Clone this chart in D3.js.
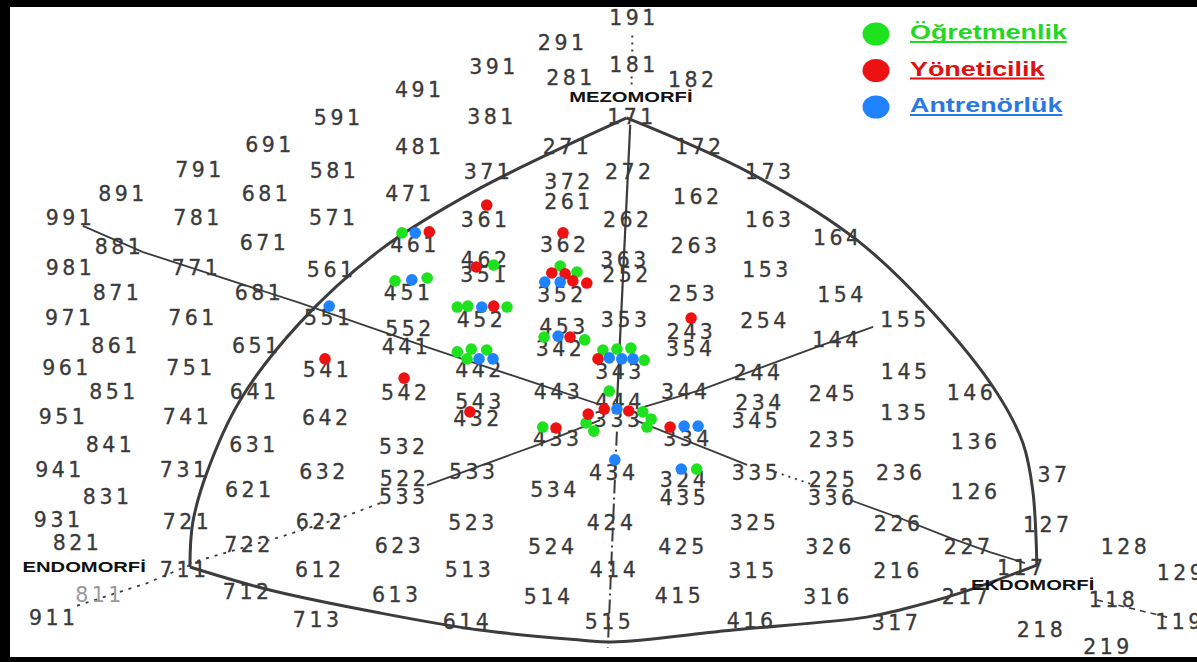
<!DOCTYPE html>
<html>
<head>
<meta charset="utf-8">
<script src="https://cdn.jsdelivr.net/npm/d3@7"></script>
<style>
  body { margin: 0; background: #fff; }
</style>
</head>
<body>
<div id="chart"></div>
<script>
// ---- data (somatochart units: X = ecto - endo, Y = 2*meso - endo - ecto)
const groupNames = ["Öğretmenlik", "Yöneticilik", "Antrenörlük"];
const groupColors = ["#1ee21e", "#ee1111", "#1f82ff"];
const textColors = ["#22d822", "#dd1111", "#2a78e4"];

const ogretmenlik = [[-3.0,7.38],[-1.69,6.04],[-0.74,6.0],[-0.5,5.75],[-3.10,5.38],[-2.64,5.5],
  [-2.21,4.29],[-2.06,4.33],[-1.5,4.29],[-2.21,2.42],[-2.01,2.54],[-1.79,2.5],[-2.07,2.13],
  [-0.97,3.04],[-0.39,2.92],[-0.13,2.5],[0.07,2.54],[0.27,2.58],[0.46,2.08],[-0.04,0.79],
  [0.44,-0.08],[0.56,-0.38],[0.5,-0.71],[-0.37,-0.54],[-0.26,-0.88],[-0.99,-0.71],[1.21,-2.46]];
const yoneticilik = [[-1.79,8.54],[-2.61,7.42],[-0.70,7.38],[-1.94,5.96],[-0.86,5.71],[-0.67,5.67],
  [-0.56,5.38],[-0.36,5.29],[-1.69,4.33],[-4.10,2.13],[-2.97,1.33],[-2.03,-0.08],[-0.6,3.04],
  [-0.2,2.13],[-0.34,-0.17],[-0.11,0.04],[0.24,-0.04],[-0.8,-0.75],[0.83,-0.71],[1.13,3.83]];
const antrenorluk = [[-2.81,7.38],[-0.96,5.33],[-0.74,5.33],[-2.86,5.42],[-1.86,4.29],[-4.04,4.33],
  [-1.9,2.13],[-1.7,2.13],[-0.77,3.08],[-0.04,2.17],[0.14,2.13],[0.3,2.13],[0.07,0.04],
  [1.03,-0.67],[1.23,-0.67],[0.04,-2.08],[0.99,-2.46]];

const somatotypes = [
  ["191",0.29,16.33],["291",-0.73,15.29],["391",-1.71,14.29],["181",0.29,14.38],["281",-0.61,13.83],["182",1.13,13.75],["491",-2.77,13.33],
  ["591",-3.93,12.17],["381",-1.74,12.21],["171",0.26,12.21],
  ["691",-4.91,11.04],["481",-2.77,10.96],["271",-0.66,10.96],["172",1.23,10.96],
  ["791",-5.91,10.0],["581",-3.99,9.96],["371",-1.79,9.92],["372",-0.64,9.5],["272",0.23,9.92],["173",2.23,9.92],
  ["891",-7.01,9.0],["681",-4.96,9.0],["471",-2.91,9.0],["261",-0.64,8.67],["162",1.2,8.88],
  ["991",-7.76,8.0],["781",-5.94,8.0],["571",-4.0,8.0],["361",-1.83,7.92],["262",0.2,7.92],["163",2.23,7.92],
  ["881",-7.06,6.79],["671",-4.99,6.96],["461",-2.84,6.88],["362",-0.7,6.88],["263",1.17,6.83],["164",3.2,7.17],
  ["981",-7.76,5.92],["771",-5.96,5.92],["561",-4.03,5.83],["462",-1.83,6.25],["351",-1.84,5.63],["363",0.16,6.25],["252",0.19,5.63],["153",2.19,5.83],
  ["871",-7.09,4.88],["681",-5.06,4.88],["451",-2.93,4.88],["352",-0.74,4.79],["253",1.14,4.83],["154",3.26,4.79],
  ["971",-7.77,3.83],["761",-6.01,3.83],["551",-4.07,3.83],["452",-1.89,3.75],["552",-2.91,3.38],["353",0.17,3.75],["254",2.16,3.71],["155",4.16,3.75],
  ["861",-7.11,2.67],["651",-5.1,2.67],["441",-2.96,2.63],["453",-0.71,3.46],["342",-0.76,2.54],["243",1.11,3.25],["354",1.10,2.54],["144",3.19,2.92],
  ["961",-7.81,1.75],["751",-6.04,1.75],["541",-4.09,1.67],["442",-1.91,1.67],["343",0.09,1.58],["244",2.07,1.54],["145",4.17,1.58],
  ["851",-7.14,0.75],["641",-5.13,0.75],["542",-2.97,0.71],["443",-0.79,0.75],["344",1.03,0.75],["234",2.09,0.29],["245",3.14,0.67],["146",5.11,0.71],
  ["951",-7.86,-0.29],["741",-6.09,-0.29],["642",-4.1,-0.33],["543",-1.91,0.33],["432",-1.94,-0.38],["444",0.09,0.33],["333",0.07,-0.42],["345",2.04,-0.46],["135",4.16,-0.13],
  ["841",-7.19,-1.46],["631",-5.14,-1.46],["532",-3.0,-1.54],["433",-0.8,-1.21],["334",1.06,-1.21],["235",3.14,-1.25],["136",5.17,-1.33],
  ["941",-7.91,-2.5],["731",-6.13,-2.5],["632",-4.14,-2.58],["533",-2.0,-2.58],["434",0.0,-2.63],["324",1.01,-2.92],["335",2.04,-2.63],["225",3.14,-2.92],["236",4.1,-2.63],["37",6.29,-2.71],
  ["831",-7.23,-3.63],["621",-5.2,-3.33],["522",-2.99,-2.88],["533",-3.0,-3.63],["534",-0.84,-3.33],["435",1.01,-3.67],["336",3.13,-3.67],["126",5.17,-3.42],
  ["931",-7.93,-4.58],["721",-6.09,-4.67],["622",-4.19,-4.67],["523",-2.01,-4.71],["424",-0.03,-4.71],["325",2.01,-4.71],["226",4.07,-4.75],["127",6.2,-4.79],
  ["821",-7.66,-5.54],["722",-5.21,-5.63],["623",-3.06,-5.67],["524",-0.87,-5.71],["425",0.99,-5.71],["326",3.09,-5.71],["227",5.07,-5.71],["128",7.31,-5.71],
  ["711",-6.13,-6.67],["612",-4.2,-6.67],["513",-2.06,-6.67],["414",0.01,-6.67],["315",1.99,-6.71],["216",4.06,-6.71],["117",5.83,-6.58],["129",8.11,-6.79],
  ["811",-7.34,-7.71],["712",-5.23,-7.58],["613",-3.1,-7.71],["514",-0.93,-7.79],["415",0.94,-7.75],["316",3.06,-7.79],["217",5.04,-7.79],["118",7.14,-7.92],
  ["911",-8.0,-8.67],["713",-4.23,-8.75],["614",-2.09,-8.83],["515",-0.06,-8.83],["416",1.97,-8.79],["317",4.04,-8.88],["218",6.11,-9.17],["119",8.09,-8.83],["219",7.06,-9.88]
];

const poleNames = [["MEZOMORFİ",0.27,13.04],["ENDOMORFİ",-7.54,-6.54],["EKDOMORFİ",6.01,-7.29]];

// outline of the chart
const leftArc = [[0.21,12.17],[-1.93,9.17],[-3.31,6.67],[-4.46,3.63],[-5.31,0.42],[-5.79,-2.63],[-5.99,-4.71],[-6.03,-6.54]];
const rightArc = [[0.21,12.17],[1.97,9.88],[3.5,7.08],[4.59,4.04],[5.5,0.71],[5.87,-1.38],[6.01,-3.33],[6.07,-6.46]];
const bottomArc = [[-6.03,-6.54],[-4.89,-7.5],[-3.31,-8.46],[-1.89,-9.17],[-0.46,-9.58],[0.0,-9.67],[1.73,-9.17],[3.64,-8.63],[4.11,-8.33],[4.97,-7.63],[6.07,-6.46]];

// axis lines through the centre
const mesoSolid = [[0.26,11.88],[0.07,0.2]];
const mesoDashed = [[0.07,-0.9],[-0.06,-9.92]];
const mesoDotted1 = [[0.29,15.6],[0.29,14.8]];
const mesoDotted2 = [[0.28,13.9],[0.28,13.4]];
const endoMesoLine = [[-7.56,7.67],[-6.7,6.58],[-4.46,4.46],[-2.6,2.58],[-0.89,0.92],[-0.2,0.25]];
const ectoMesoLine = [[0.4,0.08],[1.26,0.83],[2.93,2.63],[3.73,3.46]];
const ectoSolid1 = [[0.33,-0.42],[1.93,-2.29]];
const ectoDotted = [[2.33,-2.58],[2.97,-3.21]];
const ectoSolid2 = [[3.4,-3.75],[4.11,-4.5],[4.83,-5.33],[5.4,-5.92],[5.9,-6.38]];
const endoSolid = [[-0.17,-0.42],[-1.07,-1.46],[-2.64,-3.13]];
const endoDotted = [[-3.31,-3.88],[-3.84,-4.46],[-4.74,-5.29],[-6.03,-6.38]];
const endoExtension = [[-6.03,-6.46],[-6.64,-7.21],[-7.7,-8.21]];
const ectoExtension = [[6.93,-7.92],[7.93,-8.63]];

// ---- svg
const W = 1197, H = 662;
const svg = d3.select("#chart").append("svg")
  .attr("width", W).attr("height", H)
  .style("display", "block");

// black frame of the scan
svg.append("rect").attr("width", W).attr("height", H).attr("fill", "#000");
svg.append("rect").attr("x", 10).attr("y", 7).attr("width", W - 10).attr("height", 650).attr("fill", "#fff");

const x = d3.scaleLinear().domain([-6, 6]).range([192, 1032]);
const y = d3.scaleLinear().domain([-6, 12]).range([554, 122]);

const ink = "#3c3c3c";
const smooth = d3.line().x(d => x(d[0])).y(d => y(d[1])).curve(d3.curveCatmullRom);
const straight = d3.line().x(d => x(d[0])).y(d => y(d[1]));

// outline
[leftArc, rightArc, bottomArc].forEach(a => {
  svg.append("path").attr("d", smooth(a))
    .attr("fill", "none").attr("stroke", ink).attr("stroke-width", 3);
});

// axis lines
function axisLine(pts, dash, w) {
  svg.append("path").attr("d", straight(pts))
    .attr("fill", "none").attr("stroke", ink)
    .attr("stroke-width", w || 1.8)
    .attr("stroke-dasharray", dash || null);
}
axisLine(mesoSolid, null, 2.2);
axisLine(mesoDashed, "14,4,2,4", 2);
axisLine(mesoDotted1, "2,5", 2);
axisLine(mesoDotted2, "2,4", 2);
axisLine(endoMesoLine);
axisLine(ectoMesoLine);
axisLine(ectoSolid1);
axisLine(ectoDotted, "2,5");
axisLine(ectoSolid2);
axisLine(endoSolid);
axisLine(endoDotted, "3,6", 1.8);
axisLine(endoExtension, "3,6", 1.8);
axisLine(ectoExtension, "6,5", 1.6);

// somatotype numbers (wide, letter-spaced scanned digits)
svg.append("g").selectAll("text")
  .data(somatotypes)
  .enter()
  .append("text")
  .attr("x", d => x(d[1]))
  .attr("y", d => y(d[2]))
  .attr("text-anchor", "middle")
  .attr("dominant-baseline", "central")
  .attr("font-family", "DejaVu Sans, sans-serif")
  .attr("font-size", 20.5)
  .attr("fill", d => d[0] === "811" ? "#9a9a9a" : "#3a3a3a")
  .attr("stroke", d => d[0] === "811" ? "none" : "#3a3a3a")
  .attr("stroke-width", 0.3)
  .text(d => d[0])
  .each(function(d) {
    const len = this.getComputedTextLength();
    d3.select(this).attr("textLength", len + (d[0].length - 1) * 3.5).attr("lengthAdjust", "spacing");
  });

// pole names
svg.append("g").selectAll("text")
  .data(poleNames)
  .enter()
  .append("text")
  .attr("x", d => x(d[1]))
  .attr("y", d => y(d[2]))
  .attr("text-anchor", "middle")
  .attr("dominant-baseline", "central")
  .attr("font-family", "Liberation Sans, Arial, sans-serif")
  .attr("font-weight", "bold")
  .attr("font-size", 14)
  .attr("fill", "#111")
  .text(d => d[0])
  .each(function() {
    const len = this.getComputedTextLength();
    d3.select(this).attr("textLength", len * 1.44).attr("lengthAdjust", "spacingAndGlyphs");
  });

// dots
const groups = [ogretmenlik, yoneticilik, antrenorluk];
groups.forEach((pts, i) => {
  svg.append("g").selectAll("circle")
    .data(pts)
    .enter()
    .append("circle")
    .attr("cx", d => x(d[0]))
    .attr("cy", d => y(d[1]))
    .attr("r", 5.8)
    .attr("fill", groupColors[i]);
});

// legend
const legend = svg.append("g");
groupNames.forEach((name, i) => {
  const cy = 34 + i * 36.5;
  legend.append("ellipse")
    .attr("cx", 876).attr("cy", cy)
    .attr("rx", 13.5).attr("ry", 11.5)
    .attr("fill", groupColors[i]);
  const t = legend.append("text")
    .attr("x", 910).attr("y", cy + 5)
    .attr("font-family", "Liberation Sans, Arial, sans-serif")
    .attr("font-weight", "bold")
    .attr("font-size", 21)
    .attr("fill", textColors[i])
    .text(name);
  const len = t.node().getComputedTextLength() * 1.28;
  t.attr("textLength", len).attr("lengthAdjust", "spacingAndGlyphs");
  legend.append("line")
    .attr("x1", 910).attr("x2", 910 + len)
    .attr("y1", cy + 8).attr("y2", cy + 8)
    .attr("stroke", textColors[i]).attr("stroke-width", 2);
});
</script>
</body>
</html>
